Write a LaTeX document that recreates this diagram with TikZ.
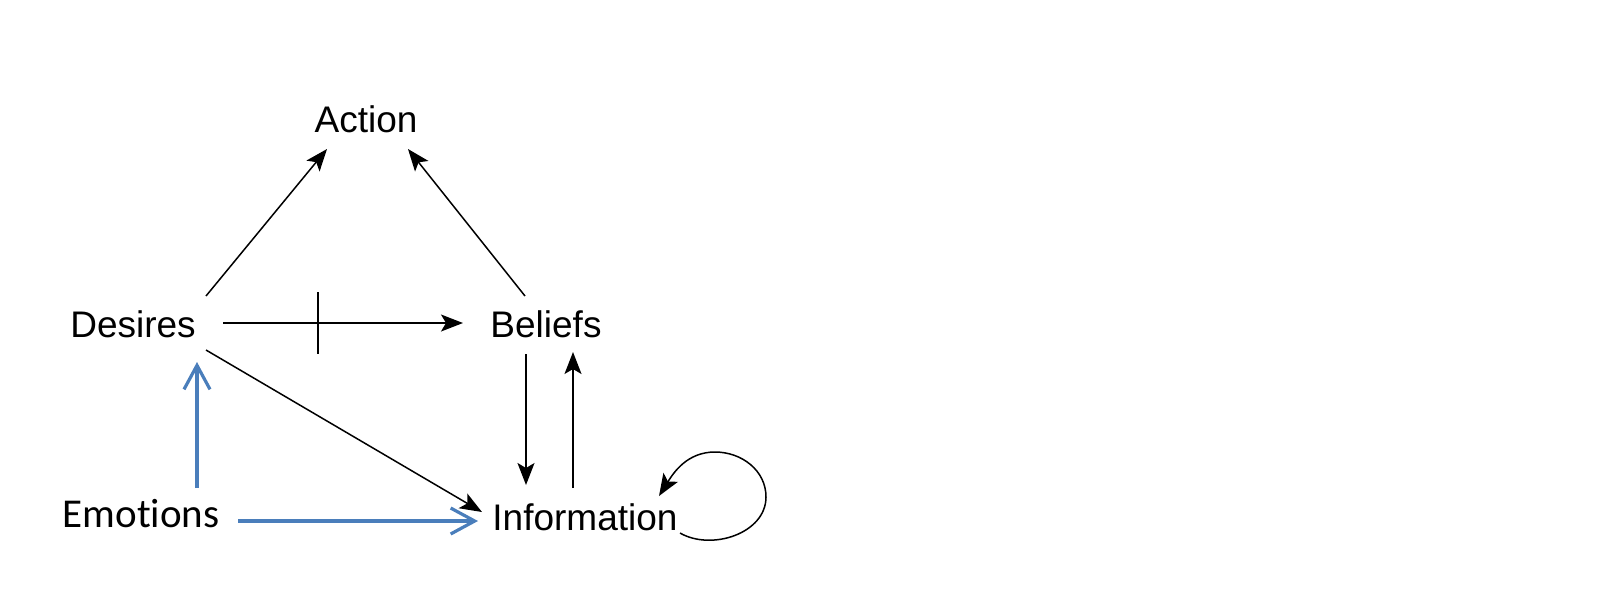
\documentclass[tikz,border=0pt]{standalone}
\usepackage{fontspec}
\setmainfont{Liberation Sans}
\newfontfamily\calib[Ligatures=NoCommon]{Carlito}
\usetikzlibrary{arrows.meta,calc}
\definecolor{eblue}{HTML}{4A7EBB}
\tikzset{
  lbl/.style={anchor=base,inner sep=0pt,font=\fontsize{18.5}{22}\selectfont},
  elbl/.style={anchor=base,inner sep=0pt,font=\calib\fontsize{20.5}{24}\selectfont},
  arr/.style={line width=0.75pt,-{Stealth[length=11pt,width=8.5pt,inset=2.5pt]}},
  barr/.style={line width=1.6pt,color=eblue,-{Straight Barb[length=12pt,width=13pt,line width=1.6pt]}},
}
\begin{document}
\begin{tikzpicture}[x=0.5pt,y=-0.5pt]
\useasboundingbox (0,0) rectangle (1600,602);
\node[lbl] (action) at (366,132) {Action};
\node[lbl] (desires) at (133,337) {Desires};
\node[lbl] (beliefs) at (546,337) {Beliefs};
\node[lbl] (info) at (585,530) {Information};
\node[elbl] (emo) at (141,527) {Emotions};
% black connectors
\draw[arr] ([shift={(73,-41)}]desires.base) -- ([shift={(-39,17)}]action.base);
\draw[arr] ([shift={(-21,-41)}]beliefs.base) -- ([shift={(42,17)}]action.base);
\draw[arr] ([shift={(90,-14)}]desires.base) -- node[pos=0.396,coordinate] (tick) {} ([shift={(-83,-14)}]beliefs.base);
\draw[line width=0.75pt] ([shift={(0,-31)}]tick) -- ([shift={(0,31)}]tick);
\draw[arr] ([shift={(-20,17)}]beliefs.base) -- ([shift={(-59,-45)}]info.base);
\draw[arr] ([shift={(-12,-42)}]info.base) -- ([shift={(27,15)}]beliefs.base);
\draw[arr] ([shift={(73,13)}]desires.base) -- ([shift={(-103,-18)}]info.base);
\draw[arr] ([shift={(95,3)}]info.base) to[out=-30,in=-90] ([shift={(181,-33)}]info.base) to[out=90,in=0] ([shift={(130,-78)}]info.base) to[out=180,in=58] ([shift={(74,-34)}]info.base);
% blue connectors
\draw[barr] ([shift={(56,-39)}]emo.base) -- ([shift={(64,25)}]desires.base);
\draw[barr] ([shift={(97,-6)}]emo.base) -- ([shift={(-107,-9)}]info.base);
\end{tikzpicture}
\end{document}
